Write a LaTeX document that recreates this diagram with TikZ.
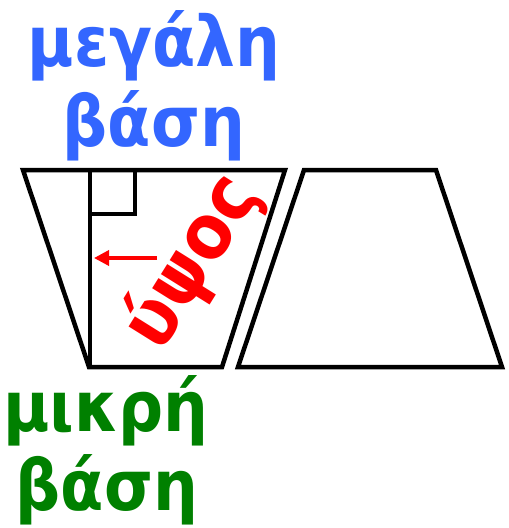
\documentclass[tikz,border=0pt]{standalone}
\usepackage{fontspec}
\setmainfont{DejaVu Sans}
\newfontfamily\condfont{DejaVu Sans Condensed}
\usetikzlibrary{arrows.meta}
\definecolor{bigblue}{RGB}{51,102,255}
\definecolor{smallgreen}{RGB}{0,128,0}
\tikzset{
  outline/.style={draw=black, line width=4.5pt, line join=miter},
  bluetxt/.style={text=bigblue, font=\condfont\bfseries\fontsize{70}{70}\selectfont, inner sep=0pt, anchor=base},
  greentxt/.style={text=smallgreen, font=\condfont\bfseries\fontsize{70}{70}\selectfont, inner sep=0pt, anchor=base},
  redtxt/.style={text=red, font=\condfont\bfseries\fontsize{76}{76}\selectfont, inner sep=0pt},
  redarrow/.style={draw=red, line width=3.5pt, -{Triangle[length=15pt,width=15pt]}}
}
\begin{document}
\begin{tikzpicture}[x=1pt,y=-1pt]
\useasboundingbox (0,0) rectangle (509,528);
% trapezoid 1 (upside down)
\coordinate (A1) at (23,170);
\coordinate (B1) at (285,170);
\coordinate (C1) at (222,367);
\coordinate (D1) at (89,367);
\draw[outline] (A1) -- (B1) -- (C1) -- (D1) -- cycle;
% height line and right-angle mark
\coordinate (H1) at (90,170);
\coordinate (H2) at (90,367);
\draw[outline] (H1) -- (H2);
\coordinate (S1) at (135,170);
\coordinate (S2) at (135,214);
\coordinate (S3) at (90,214);
\draw[outline] (S1) -- (S2) -- (S3);
% trapezoid 2
\coordinate (A2) at (304,170);
\coordinate (B2) at (436,170);
\coordinate (C2) at (502,367);
\coordinate (D2) at (238,367);
\draw[outline] (A2) -- (B2) -- (C2) -- (D2) -- cycle;
% arrow
\coordinate (R1) at (157,258);
\coordinate (R2) at (94,258);
\draw[redarrow] (R1) -- (R2);
% texts
\node[bluetxt] (big1) at (154,66) {μεγάλη};
\node[bluetxt] (big2) at (154,146) {βάση};
\node[greentxt] (small1) at (106,431) {μικρή};
\node[greentxt] (small2) at (107,510) {βάση};
\node[redtxt, rotate=58] (height) at (192,262) {ύψος};
\end{tikzpicture}
\end{document}
